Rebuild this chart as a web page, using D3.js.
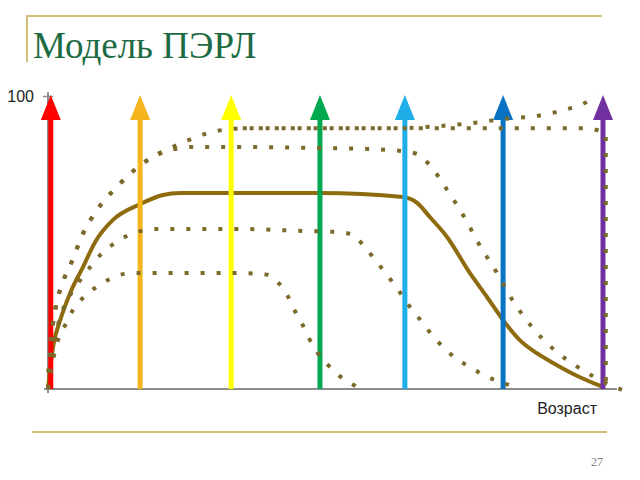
<!DOCTYPE html>
<html><head><meta charset="utf-8">
<script src="https://cdn.jsdelivr.net/npm/d3@7"></script>
<style>html,body{margin:0;padding:0;background:#fff;}svg{display:block;}</style>
</head><body>
<script>
// ---- data ----
const title = "Модель ПЭРЛ";
const xLabel = "Возраст";
const yTickLabels = ["100"];
const pageNumber = "27";
// arrows: age positions and colours (life stages)
const arrowAges = [0.5, 16.6, 33.0, 49.0, 64.3, 82.0, 100];
const arrowColors = ["#ff0000", "#f6b51c", "#ffff00", "#00a850", "#1eaee8", "#0a72c2", "#7030a0"];
// main (solid) curve [age, value]
const mainCurve = [[0,0],[0.9,14.3],[2.2,23.5],[4,32.8],[6.3,41.6],[8.5,50.2],[11.7,57.7],[16.6,63.1],[20.7,66.2],[23.8,66.9],[49,66.9],[64,65.5],[66.5,63.5],[68.8,58.7],[71.9,51.9],[76,39.6],[79.1,31.4],[82,23.5],[85,16.7],[88,12.3],[91,8.9],[95,4.8],[100,0.7]];
// dotted curves
const dotA = [[0,0],[0.4,13],[1.3,27],[2.5,35.5],[4.3,43.5],[6.3,53],[8.8,61],[12.4,69],[17.1,77],[21.4,81.5],[24.1,84],[26.8,86],[29.5,87.7],[32.8,88.7],[35.1,89],[50,89],[63.4,89],[67.9,89.4],[76.6,90.8],[82.3,92.2],[88.1,93.2],[93.7,95.6],[96.4,97.3],[98.9,100.3]];
const dotB = [[35.1,89],[50,89],[63.4,89],[80,89],[97.8,89],[100.5,87.5],[100.5,45],[100.5,0]];
const dotC = [[0,0],[0.4,13],[1.3,27],[2.5,35.5],[4.3,43.5],[6.3,53],[8.8,61],[12.4,69],[17.1,77],[21.4,81.5],[23.2,82],[25.9,82.6],[34.2,82.6],[46.3,82.3],[58,81.9],[63.8,81.2],[66.5,80.2],[68.6,76.8],[71.9,68],[75,58.7],[77.8,49],[80.9,39.6],[83.8,30],[87.2,21.2],[91,13.7],[95.7,7.2],[100.9,1.7],[103.4,-0.3]];
const dotD = [[0,5.8],[0.7,11.6],[1.8,21.8],[4,32.1],[5.8,37.2],[7.6,41.6],[9.4,45.7],[11.5,49.1],[14.2,52.2],[19.6,54.6],[35.1,54.6],[46.3,53.9],[52.1,53.6],[55,52.6],[56.9,48.8],[58.7,44.7],[60.5,40.3],[62.2,36.2],[64,31.4],[65.6,27],[67.4,22.9],[69.2,18.4],[71.2,14.3],[73.2,10.9],[75.7,7.8],[78.2,5.1],[80.9,2.7],[83.4,1],[84.2,0]];
const dotE = [[0,0],[0.7,8],[1.8,16.7],[3.1,21.8],[4.5,27],[6.3,31.1],[8.5,34.5],[10.8,37.2],[13.5,39.2],[16.2,39.6],[33.3,39.6],[38.9,39.2],[41.4,36.5],[43.1,32.1],[44.3,27.3],[45.8,22.2],[47,17.4],[48.5,12.6],[50.3,8.5],[52.3,4.8],[54.8,1.7],[56.2,0]];
const smoothDotted = [dotA, dotC, dotD, dotE];
const straightDotted = [dotB];

// ---- drawing ----
const W = 640, H = 480;
const svg = d3.select("body").append("svg").attr("width", W).attr("height", H);

// slide frame
const gold = "#d2be7a";
svg.append("line").attr("x1", 27).attr("x2", 602).attr("y1", 16).attr("y2", 16).attr("stroke", gold).attr("stroke-width", 2);
svg.append("line").attr("x1", 27).attr("x2", 27).attr("y1", 15).attr("y2", 62).attr("stroke", gold).attr("stroke-width", 2);
svg.append("line").attr("x1", 32).attr("x2", 607).attr("y1", 432).attr("y2", 432).attr("stroke", gold).attr("stroke-width", 2);
svg.append("text").attr("x", 33).attr("y", 58).text(title)
  .attr("font-family", "'Liberation Serif','Times New Roman',serif").attr("font-size", 37).attr("fill", "#1d6b42");
svg.append("text").attr("x", 603).attr("y", 466).attr("text-anchor", "end").text(pageNumber)
  .attr("font-family", "'Liberation Serif',serif").attr("font-size", 12).attr("fill", "#808080");

const x = d3.scaleLinear().domain([0, 100]).range([48, 603]);
const y = d3.scaleLinear().domain([0, 100]).range([389, 96]);

// axes
const axisColor = "#8c8c8c";
const gx = svg.append("g").attr("transform", `translate(0,${y(0)})`)
  .call(d3.axisBottom(x).tickValues([]).tickSizeOuter(0));
gx.select(".domain").attr("d", `M44,0H${x(102.5)}`).attr("stroke", axisColor).attr("stroke-width", 2);
const gy = svg.append("g").attr("transform", `translate(${x(0)},0)`)
  .call(d3.axisLeft(y).tickValues([100]).tickSize(5).tickFormat((d, i) => yTickLabels[i]).tickSizeOuter(0));
gy.select(".domain").attr("d", `M0,${y(0) + 4}V${y(101.3)}`).attr("stroke", axisColor).attr("stroke-width", 2);
gy.selectAll(".tick line").attr("x1", -5).attr("x2", 5).attr("stroke", axisColor).attr("stroke-width", 1.5);
gy.selectAll(".tick text").attr("x", -14).attr("font-family", "Arial, 'Liberation Sans', sans-serif").attr("font-size", 16).attr("fill", "#222");
svg.append("line").attr("x1", x(0) - 4).attr("x2", x(0) + 4).attr("y1", y(0)).attr("y2", y(0)).attr("stroke", axisColor).attr("stroke-width", 1.5);
svg.append("text").attr("x", 597).attr("y", 414).attr("text-anchor", "end").text(xLabel)
  .attr("font-family", "Arial, 'Liberation Sans', sans-serif").attr("font-size", 16).attr("fill", "#222");

const smooth = d3.line().x(d => x(d[0])).y(d => y(d[1])).curve(d3.curveMonotoneX);
const straight = d3.line().x(d => x(d[0])).y(d => y(d[1])).curve(d3.curveLinear);

// solid curve
svg.append("path").datum(mainCurve).attr("d", smooth).attr("fill", "none")
  .attr("stroke", "#8d6b0e").attr("stroke-width", 4);

// arrows
const shaftW = 5, headW = 20, headH = 25;
arrowAges.forEach((a, i) => {
  const cx = x(a), top = y(100.3);
  svg.append("line").attr("x1", cx).attr("x2", cx).attr("y1", y(0)).attr("y2", top + headH - 1)
    .attr("stroke", arrowColors[i]).attr("stroke-width", shaftW);
  svg.append("path").attr("d", `M${cx},${top}L${cx + headW / 2},${top + headH}L${cx - headW / 2},${top + headH}Z`)
    .attr("fill", arrowColors[i]);
});

// dotted curves
const dotStyle = p => p.attr("fill", "none").attr("stroke", "#7c6a2c").attr("stroke-width", 4).attr("stroke-dasharray", "4 12");
smoothDotted.forEach(c => svg.append("path").datum(c).attr("d", smooth).call(dotStyle));
straightDotted.forEach(c => svg.append("path").datum(c).attr("d", straight).call(dotStyle));
</script>
</body></html>
